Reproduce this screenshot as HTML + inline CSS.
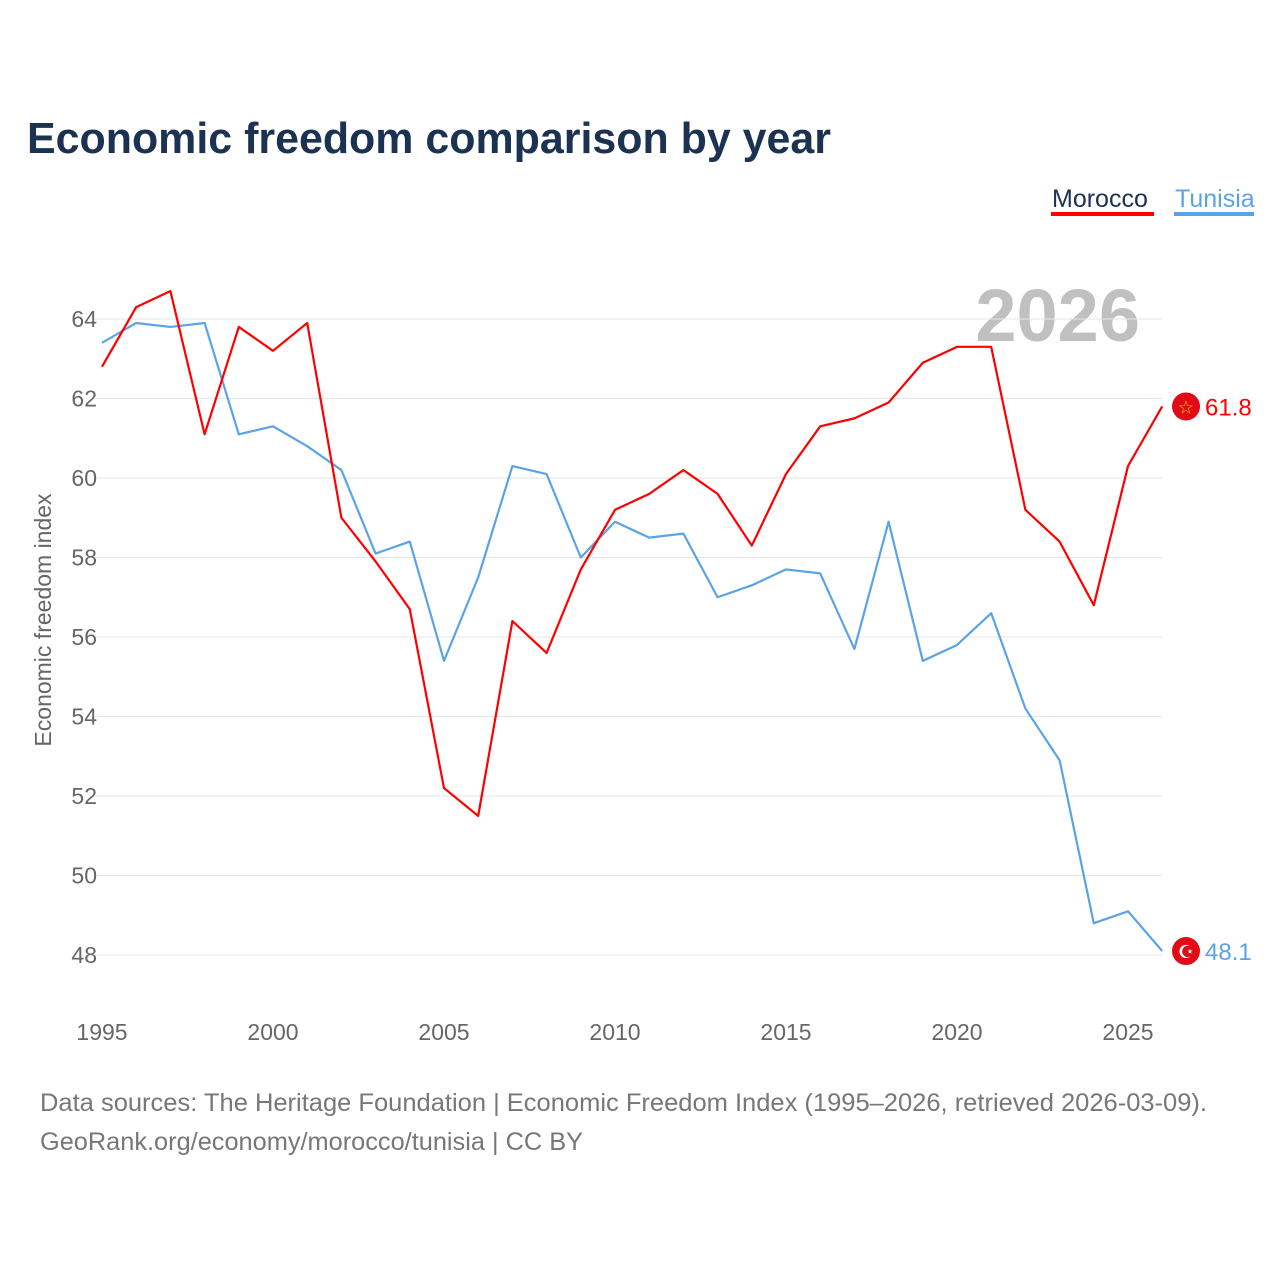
<!DOCTYPE html>
<html><head><meta charset="utf-8"><style>
body{margin:0;background:#fff;width:1280px;height:1280px;overflow:hidden;font-family:"Liberation Sans",sans-serif}
</style></head><body>
<svg width="1280" height="1280" xmlns="http://www.w3.org/2000/svg">
<text x="27" y="153" font-size="44" font-weight="bold" fill="#1b3252" textLength="804" lengthAdjust="spacingAndGlyphs">Economic freedom comparison by year</text>
<g>
<text x="1052" y="207" font-size="25" fill="#1b3252">Morocco</text>
<rect x="1051" y="212" width="103" height="4" fill="#ff0000"/>
<text x="1175" y="207" font-size="25" fill="#5ba3e6">Tunisia</text>
<rect x="1174" y="212" width="80" height="4" fill="#5ba3e6"/>
</g>
<text x="1140" y="341" font-size="74" font-weight="bold" fill="#c0c0c0" text-anchor="end">2026</text>
<g id="grid"></g><g id="ylab"></g><g id="xlab"></g>
<text transform="translate(51,620) rotate(-90)" font-size="23" fill="#666" text-anchor="middle">Economic freedom index</text>
<g id="lines"></g>
<text x="40" y="1111" font-size="25" fill="#777" textLength="1167" lengthAdjust="spacingAndGlyphs">Data sources: The Heritage Foundation | Economic Freedom Index (1995–2026, retrieved 2026-03-09).</text>
<text x="40" y="1150" font-size="25" fill="#777" textLength="543" lengthAdjust="spacingAndGlyphs">GeoRank.org/economy/morocco/tunisia | CC BY</text>
</svg>
<script>
const years=[1995,1996,1997,1998,1999,2000,2001,2002,2003,2004,2005,2006,2007,2008,2009,2010,2011,2012,2013,2014,2015,2016,2017,2018,2019,2020,2021,2022,2023,2024,2025,2026];
const morocco=[62.8,64.3,64.7,61.1,63.8,63.2,63.9,59.0,57.9,56.7,52.2,51.5,56.4,55.6,57.7,59.2,59.6,60.2,59.6,58.3,60.1,61.3,61.5,61.9,62.9,63.3,63.3,59.2,58.4,56.8,60.3,61.8];
const tunisia=[63.4,63.9,63.8,63.9,61.1,61.3,60.8,60.2,58.1,58.4,55.4,57.5,60.3,60.1,58.0,58.9,58.5,58.6,57.0,57.3,57.7,57.6,55.7,58.9,55.4,55.8,56.6,54.2,52.9,48.8,49.1,48.1];
const yTicks=[48,50,52,54,56,58,60,62,64];
const xTicks=[1995,2000,2005,2010,2015,2020,2025];
const NS="http://www.w3.org/2000/svg";
const x=v=>102+(v-1995)*(1128-102)/30;
const y=v=>955-(v-48)*(955-319)/16;
function mk(t,a,p){const e=document.createElementNS(NS,t);for(const k in a)e.setAttribute(k,a[k]);document.getElementById(p).appendChild(e);return e;}
yTicks.forEach(t=>{
 const l=mk('line',{x1:95,x2:1162,y1:y(t),y2:y(t),stroke:'#e6e6e6','stroke-width':1},'grid');
 
 
 const tx=mk('text',{x:97,y:y(t)+8,'font-size':23,fill:'#666','text-anchor':'end'},'ylab');tx.textContent=t;
 
 
});
xTicks.forEach(t=>{
 const tx=mk('text',{x:x(t),y:1040,'font-size':23,fill:'#666','text-anchor':'middle'},'xlab');tx.textContent=t;
 
 
});
function series(vals,col,name){
 const p=mk('polyline',{points:vals.map((v,i)=>x(years[i])+','+y(v)).join(' '),fill:'none',stroke:col,'stroke-width':2.2,'stroke-linejoin':'round'},'lines');
 
 
 const last=vals[vals.length-1];
 const c=mk('circle',{cx:1186,cy:y(last),r:14,fill:'#e30a17'},'lines');
 
 
 const s=mk('text',{x:1186,y:y(last)+7,'font-size':18,fill:name==='morocco'?'#ffd400':'#fff','text-anchor':'middle'},'lines');s.textContent=name==='morocco'?'☆':'☪';
 
 
 const t=mk('text',{x:1205,y:y(last)+9,'font-size':24,fill:col},'lines');t.textContent=last.toFixed(1);
 
 
}
series(tunisia,'#5ba3e6','tunisia');
series(morocco,'#ff0000','morocco');
</script>
</body></html>
